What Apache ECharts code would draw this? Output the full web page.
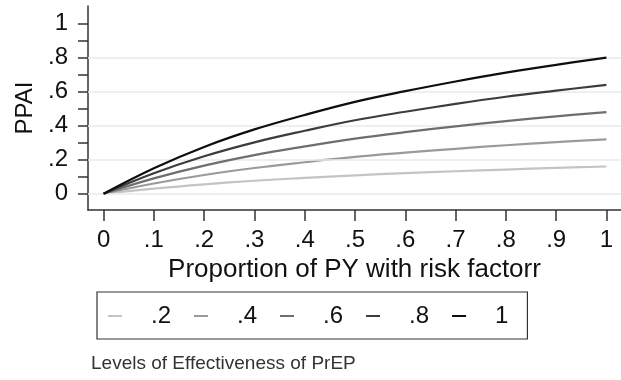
<!DOCTYPE html>
<html>
<head>
<meta charset="utf-8">
<script src="https://cdn.jsdelivr.net/npm/echarts@6/dist/echarts.min.js"></script>
<style>
  html, body { margin: 0; padding: 0; background: #fff; }
  #chart { width: 621px; height: 380px; }
</style>
</head>
<body>
<div id="chart"></div>
<script>
// Proportion of person-years with the risk factor (x values)
const pyShare = [0, 0.1, 0.2, 0.3, 0.4, 0.5, 0.6, 0.7, 0.8, 0.9, 1];

// PPAI for each level of PrEP effectiveness
const ppaiEff02 = [0, 0.030, 0.055, 0.076, 0.093, 0.108, 0.121, 0.132, 0.142, 0.152, 0.16];
const ppaiEff04 = [0, 0.060, 0.110, 0.151, 0.185, 0.216, 0.241, 0.264, 0.285, 0.303, 0.32];
const ppaiEff06 = [0, 0.090, 0.165, 0.227, 0.278, 0.324, 0.362, 0.396, 0.427, 0.455, 0.48];
const ppaiEff08 = [0, 0.120, 0.220, 0.302, 0.370, 0.432, 0.482, 0.528, 0.570, 0.606, 0.64];
const ppaiEff10 = [0, 0.150, 0.275, 0.378, 0.463, 0.540, 0.603, 0.660, 0.712, 0.758, 0.80];

const levelNames = ['.2', '.4', '.6', '.8', '1'];

// Axis ticks and their labels
const xTicks = [0, 0.1, 0.2, 0.3, 0.4, 0.5, 0.6, 0.7, 0.8, 0.9, 1];
const xTickLabels = ['0', '.1', '.2', '.3', '.4', '.5', '.6', '.7', '.8', '.9', '1'];
const yTicks = [0, 0.2, 0.4, 0.6, 0.8, 1];
const yTickLabels = ['0', '.2', '.4', '.6', '.8', '1'];
const yMinorTicks = [0, 0.1, 0.2, 0.3, 0.4, 0.5, 0.6, 0.7, 0.8, 0.9, 1];
const yGridValues = [0, 0.2, 0.4, 0.6, 0.8];

const lineColors = ['#c4c4c4', '#9a9a9a', '#6e6e6e', '#3c3c3c', '#0e0e0e'];
const FONT = '"Liberation Sans", Arial, sans-serif';

function lookup(ticks, labels, v) {
  const r = Math.round(v * 1000) / 1000;
  const i = ticks.findIndex(t => Math.abs(t - r) < 1e-6);
  return i >= 0 ? labels[i] : '';
}

const seriesValues = [ppaiEff02, ppaiEff04, ppaiEff06, ppaiEff08, ppaiEff10];

const lineSeries = seriesValues.map((vals, k) => ({
  name: levelNames[k],
  type: 'line',
  data: pyShare.map((x, i) => [x, vals[i]]),
  showSymbol: false,
  symbol: 'none',
  smooth: 0.4,
  z: 3 + k,
  lineStyle: { color: lineColors[k], width: 2.2 },
  itemStyle: { color: lineColors[k] },
  emphasis: { disabled: true }
}));

// Background horizontal grid lines
const gridSeries = {
  type: 'line',
  data: [],
  z: 1,
  silent: true,
  markLine: {
    silent: true,
    symbol: 'none',
    label: { show: false },
    lineStyle: { color: '#e4ecee', width: 1.5, type: 'solid' },
    data: yGridValues.map(v => ({ yAxis: v }))
  }
};

const chart = echarts.init(document.getElementById('chart'), null, { renderer: 'canvas' });
chart.setOption({
  animation: false,
  backgroundColor: '#fff',
  title: {
    text: 'Levels of Effectiveness of PrEP',
    left: 91,
    top: 354,
    padding: 0,
    textStyle: { fontFamily: FONT, fontSize: 19, fontWeight: 'normal', color: '#333' }
  },
  legend: {
    data: levelNames,
    left: 97,
    top: 292,
    orient: 'horizontal',
    icon: 'rect',
    itemWidth: 14,
    itemHeight: 2,
    itemGap: 23,
    padding: [12, 19, 11, 11],
    borderColor: '#333',
    borderWidth: 1.2,
    selectedMode: false,
    textStyle: { fontFamily: FONT, fontSize: 24, color: '#111', padding: [0, 0, 0, 24] }
  },
  grid: { left: 88, right: 0, top: 6, bottom: 170, containLabel: false },
  xAxis: {
    type: 'value',
    min: -0.031,
    max: 1.029,
    name: 'Proportion of PY with risk factorr',
    nameLocation: 'middle',
    nameGap: 45,
    nameTextStyle: { fontFamily: FONT, fontSize: 26, color: '#111' },
    axisLine: { show: true, onZero: false, lineStyle: { color: '#333', width: 1.5 } },
    axisTick: { show: true, customValues: xTicks, length: 11, lineStyle: { color: '#333', width: 1.5 } },
    axisLabel: {
      customValues: xTicks,
      margin: 18,
      fontFamily: FONT, fontSize: 24, color: '#111',
      formatter: v => lookup(xTicks, xTickLabels, v)
    },
    splitLine: { show: false }
  },
  yAxis: {
    type: 'value',
    min: -0.096,
    max: 1.104,
    name: 'PPAI',
    nameLocation: 'middle',
    nameGap: 48,
    nameRotate: 90,
    nameTextStyle: { fontFamily: FONT, fontSize: 24, color: '#111' },
    axisLine: { show: true, onZero: false, lineStyle: { color: '#333', width: 1.5 } },
    axisTick: { show: true, customValues: yMinorTicks, length: 10, lineStyle: { color: '#333', width: 1.5 } },
    axisLabel: {
      customValues: yTicks,
      margin: 20,
      fontFamily: FONT, fontSize: 24, color: '#111',
      formatter: v => lookup(yTicks, yTickLabels, v)
    },
    splitLine: { show: false }
  },
  series: [gridSeries].concat(lineSeries)
});
</script>
</body>
</html>
